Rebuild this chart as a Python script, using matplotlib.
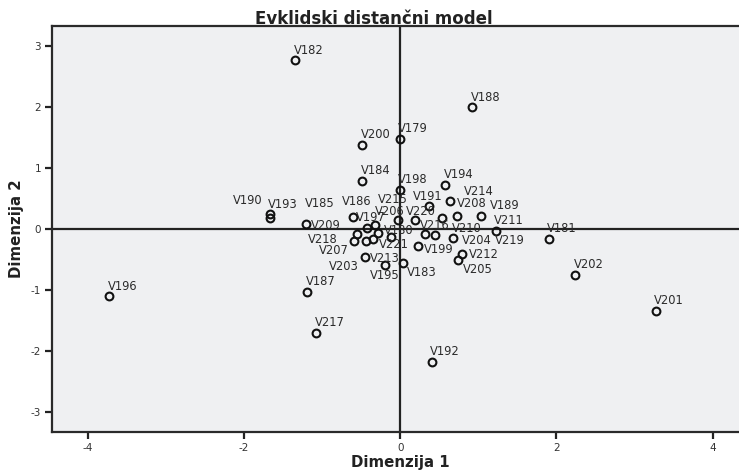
import matplotlib
matplotlib.use("Agg")
import matplotlib.pyplot as plt

# ---- data: stimulus coordinates (Euclidean distance model) ----
names = ["V179", "V180", "V181", "V182", "V183", "V184", "V185", "V186", "V187",
         "V188", "V189", "V190", "V191", "V192", "V193", "V194", "V195", "V196",
         "V197", "V198", "V199", "V200", "V201", "V202", "V203", "V204", "V205",
         "V206", "V207", "V208", "V209", "V210", "V211", "V212", "V213", "V214",
         "V215", "V216", "V217", "V218", "V219", "V220", "V221"]
dim1 = [-0.01, -0.12, 1.90, -1.35, 0.03, -0.49, -0.35, -0.42, -1.19,
        0.92, 1.03, -1.67, 0.37, 0.40, -1.67, 0.57, -0.19, -3.73,
        -0.60, -0.01, 0.23, -0.49, 3.27, 2.24, -0.44, 0.67, 0.74,
        -0.33, -0.59, 0.64, -1.21, 0.45, 1.22, 0.79, -0.45, 0.73,
        -0.03, 0.53, -1.08, -0.55, 0.32, 0.19, -0.28]
dim2 = [1.48, -0.13, -0.16, 2.77, -0.55, 0.79, -0.16, 0.02, -1.03,
        2.00, 0.22, 0.25, 0.39, -2.17, 0.19, 0.73, -0.59, -1.10,
        0.20, 0.65, -0.27, 1.38, -1.34, -0.75, -0.19, -0.15, -0.50,
        0.07, -0.19, 0.46, 0.09, -0.09, -0.03, -0.40, -0.45, 0.21,
        0.15, 0.19, -1.70, -0.07, -0.07, 0.16, -0.06]

title = "Evklidski distančni model"
xlabel = "Dimenzija 1"
ylabel = "Dimenzija 2"
xticks = [-4, -2, 0, 2, 4]
yticks = [-3, -2, -1, 0, 1, 2, 3]

# ---- label placement (pixel offsets of label centre from point, y up) ----
DEFAULT_OFFSET = (13.5, 11.0)
LABEL_OFFSETS = {
    "V190": (-21.7, 14.0), "V193": (13.3, 14.2), "V214": (21.3, 26.0),
    "V191": (-1.3, 10.0), "V208": (21.7, -2.0), "V189": (24.0, 10.7),
    "V219": (84.0, -6.7), "V209": (20.2, -0.6), "V185": (-53.3, 36.7),
    "V186": (-10.5, 27.6), "V215": (-5.0, 21.0), "V206": (14.8, 14.0),
    "V220": (5.8, 8.5), "V197": (17.4, 0.3), "V180": (7.7, 7.7),
    "V216": (-7.0, -6.6), "V210": (31.7, 7.4), "V218": (-35.0, -5.0),
    "V204": (24.4, -1.7), "V221": (15.5, -11.0), "V199": (20.0, -3.0),
    "V207": (-20.0, -9.0), "V213": (19.5, -0.6), "V212": (21.6, 0.0),
    "V203": (-22.0, -25.0), "V205": (20.0, -9.0), "V195": (-0.7, -9.7),
    "V183": (18.9, -9.3),
}

W, H = 739, 470
plt.rcParams["font.family"] = ["DejaVu Sans"]
plt.rcParams["axes.unicode_minus"] = False

fig = plt.figure(figsize=(W / 100, H / 100), dpi=100)
fig.patch.set_facecolor("white")
left, right, top, bottom = 52.3, 739.0, 26.0, 432.0
ax = fig.add_axes([left / W, 1 - bottom / H, (right - left) / W, (bottom - top) / H])
ax.set_facecolor("#EFF0F2")
ax.set_xlim(-4.456, 4.337)
ax.set_ylim(-3.323, 3.333)

ax.axhline(0, color="#222222", lw=1.6, zorder=1)
ax.axvline(0, color="#222222", lw=1.6, zorder=1)

ax.plot(dim1, dim2, linestyle="none", marker="o", ms=5.6, mfc="none",
        mec="#111111", mew=1.5, zorder=3)

for n, x, y in zip(names, dim1, dim2):
    dx, dy = LABEL_OFFSETS.get(n, DEFAULT_OFFSET)
    ax.annotate(n, (x, y), xytext=(dx, dy - 4.2), textcoords="offset pixels",
                ha="center", va="baseline", fontsize=8.3, color="#2a2a2a",
                zorder=4)

for side in ["left", "bottom", "top"]:
    ax.spines[side].set_color("#2a2a2a")
    ax.spines[side].set_linewidth(1.6)
ax.spines["right"].set_visible(False)

ax.set_xticks(xticks)
ax.set_yticks(yticks)
ax.set_xticklabels([str(t) for t in xticks])
ax.set_yticklabels([str(t) for t in yticks])
ax.tick_params(direction="out", length=5, width=1.6, color="#222222",
               labelsize=7.5, labelcolor="#333333", pad=3)

fig.text(373.5 / W, 1 - 18.5 / H, title, ha="center", va="center",
         fontsize=12, fontweight="bold", color="#222222")
fig.text(400 / W, 1 - 463 / H, xlabel, ha="center", va="center",
         fontsize=10.8, fontweight="bold", color="#222222")
fig.text(17 / W, 1 - 229 / H, ylabel, ha="center", va="center",
         rotation=90, fontsize=10.8, fontweight="bold", color="#222222")

fig.savefig("out.png", dpi=100)
